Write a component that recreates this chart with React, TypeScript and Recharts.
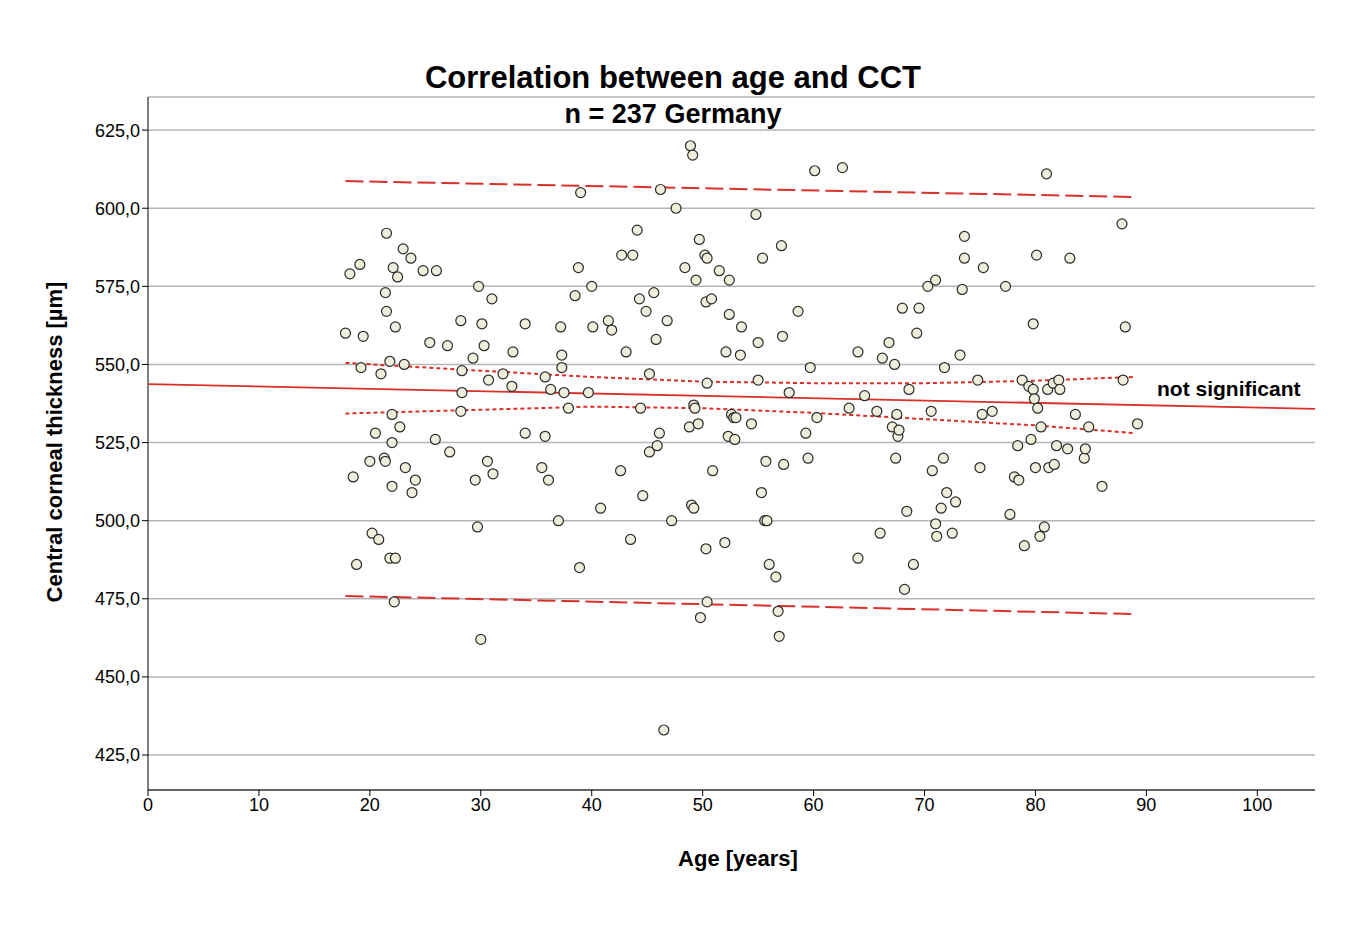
import { ComposedChart, Scatter, XAxis, YAxis, CartesianGrid } from "recharts";

// age [years], central corneal thickness [µm]
const ages = [
  17.8, 18.2, 19.1, 18.5, 18.8, 19.2, 19.4, 20, 20.2, 20.5, 20.8, 21, 21.3, 21.4, 21.5, 21.4, 21.5, 21.8, 21.8, 22, 22, 22, 22.1, 22.3, 22.2, 22.3, 22.5, 22.7, 23, 23.1, 23.2, 23.7, 23.8, 24.1, 24.8, 25.4, 26, 25.9, 27, 27.2,
  28.2, 28.3, 28.3, 28.2, 29.3, 29.5, 29.7, 29.8, 30.1, 30, 30.3, 30.6, 30.7, 31, 31.1, 32, 32.8, 32.9, 34, 34, 35.5, 35.8, 35.8, 36.1, 36.3, 37, 37.2, 37.3, 37.3, 37.5, 37.9, 38.5, 38.8, 38.9, 39, 39.7, 40, 40.1, 40.8, 41.5, 41.8, 42.6, 42.7, 43.1, 43.5, 43.7, 44.1, 44.3, 44.4, 44.6, 44.9, 45.2, 45.2, 45.6, 45.8, 45.9, 46.1, 46.2, 46.5, 46.8, 47.2, 47.6, 48.4,
  48.8, 48.9, 49.1, 49, 49.2, 49.2, 49.3, 49.4, 49.6, 49.7, 49.8, 50.2, 50.3, 50.4, 50.4, 50.3, 50.4, 50.8, 50.9, 51.5, 52, 52.1, 52.3, 52.4, 52.4, 52.6, 52.8, 52.9, 53, 53.4, 53.5, 54.4, 54.8, 55, 55, 55.3, 55.4, 55.6, 55.7, 55.8, 56, 56.6, 56.8, 56.9, 57.1, 57.2, 57.3, 57.8, 58.6, 59.3, 59.5, 59.7, 60.1, 60.3,
  62.6, 63.2, 64, 64, 64.6, 65.7, 66, 66.2, 66.8, 67.1, 67.3, 67.4, 67.5, 67.6, 67.7, 68, 68.2, 68.4, 68.6, 69, 69.3, 69.5, 70.3, 70.6, 70.7, 71, 71.1, 71, 71.5, 71.7, 71.8, 72, 72.5, 72.8, 73.2, 73.4, 73.6, 73.6, 74.8, 75, 75.3, 75.2, 76.1,
  77.3, 77.7, 78.1, 78.4, 78.5, 78.8, 79, 79.4, 79.6, 79.8, 79.8, 79.9, 80, 80.1, 80.2, 80.4, 80.5, 80.8, 81, 81.1, 81.2, 81.6, 81.7, 81.9, 82.1, 82.2, 82.9, 83.1, 83.6, 84.4, 84.5, 84.8, 86, 87.8, 87.9, 88.1, 89.2,
];
const cct = [
  560, 579, 582, 514, 486, 549, 559, 519, 496, 528, 494, 547, 520, 519, 592, 573, 567, 551, 488, 534, 525, 511, 581, 562, 474, 488, 578, 530, 587, 550, 517, 584, 509, 513, 580, 557, 580, 526, 556, 522,
  564, 548, 541, 535, 552, 513, 498, 575, 563, 462, 556, 519, 545, 571, 515, 547, 543, 554, 563, 528, 517, 546, 527, 513, 542, 500, 562, 553, 549, 541, 536, 572, 581, 485, 605, 541, 575, 562, 504, 564, 561, 516, 585, 554, 494, 585, 593, 571, 536, 508, 567, 547, 522, 573, 558, 524, 528, 606, 433, 564, 500, 600, 581,
  530, 620, 617, 505, 504, 537, 536, 577, 531, 590, 469, 585, 570, 584, 544, 491, 474, 571, 516, 580, 493, 554, 527, 577, 566, 534, 533, 526, 533, 553, 562, 531, 598, 557, 545, 509, 584, 500, 519, 500, 486, 482, 471, 463, 588, 559, 518, 541, 567, 528, 520, 549, 612, 533,
  613, 536, 488, 554, 540, 535, 496, 552, 557, 530, 550, 520, 534, 527, 529, 568, 478, 503, 542, 486, 560, 568, 575, 535, 516, 577, 495, 499, 504, 520, 549, 509, 496, 506, 553, 574, 584, 591, 545, 517, 581, 534, 535,
  575, 502, 514, 524, 513, 545, 492, 543, 526, 563, 542, 539, 517, 585, 536, 495, 530, 498, 611, 542, 517, 544, 518, 524, 545, 542, 523, 584, 534, 520, 523, 530, 511, 595, 545, 562, 531,
];

const fitAges = [0, 105.2];
const fitCct = [543.7, 535.8];
const ciAges = [17.8, 30, 40, 50, 60, 70, 80, 89];
const ciUpper = [550.5, 548, 546, 544.5, 544, 544, 544.8, 546];
const ciLower = [534.3, 535.5, 536.5, 536, 534.5, 532.5, 530.5, 528];
const piAges = [17.8, 89];
const piUpper = [608.7, 603.6];
const piLower = [475.9, 470.1];

const xTicks = [0, 10, 20, 30, 40, 50, 60, 70, 80, 90, 100];
const yTicks = [425, 450, 475, 500, 525, 550, 575, 600, 625];

const pts = ages.map((a, i) => ({ age: a, cct: cct[i] }));
const zip = (xs: number[], ys: number[]) => xs.map((x, i) => ({ age: x, cct: ys[i] }));

const RED = "#d9302a";
const FONT = "'Liberation Sans', Arial, sans-serif";

const dot = (p: any) => (
  <circle cx={p.cx} cy={p.cy} r={5} fill="#efeedb" stroke="#2b2b2b" strokeWidth={1.2} />
);
const none = () => null;

export default function App() {
  return (
    <div style={{ position: "relative", width: 1360, height: 930, fontFamily: FONT }}>
      <ComposedChart width={1360} height={930} margin={{ top: 89, right: 53, left: 0, bottom: 108 }}>
        <CartesianGrid vertical={false} stroke="#b5b5b5" strokeWidth={1.5} />
        <XAxis
          dataKey="age"
          type="number"
          domain={[0, 105.2]}
          ticks={xTicks}
          height={40}
          stroke="#000"
          tick={{ fill: "#000", fontSize: 18, fontFamily: FONT }}
          tickSize={6}
          allowDataOverflow
        />
        <YAxis
          dataKey="cct"
          type="number"
          domain={[413.8, 635.6]}
          ticks={yTicks}
          width={140}
          stroke="#000"
          tick={{ fill: "#000", fontSize: 18, fontFamily: FONT }}
          tickFormatter={(v: number) => v.toFixed(1).replace(".", ",")}
          tickSize={6}
          allowDataOverflow
        />
        <Scatter data={zip(piAges, piUpper)} shape={none} line={{ stroke: RED, strokeWidth: 2, strokeDasharray: "18 6" }} isAnimationActive={false} />
        <Scatter data={zip(piAges, piLower)} shape={none} line={{ stroke: RED, strokeWidth: 2, strokeDasharray: "18 6" }} isAnimationActive={false} />
        <Scatter data={zip(ciAges, ciUpper)} shape={none} line={{ stroke: RED, strokeWidth: 2, strokeDasharray: "4 3" }} isAnimationActive={false} />
        <Scatter data={zip(ciAges, ciLower)} shape={none} line={{ stroke: RED, strokeWidth: 2, strokeDasharray: "4 3" }} isAnimationActive={false} />
        <Scatter data={zip(fitAges, fitCct)} shape={none} line={{ stroke: RED, strokeWidth: 1.8 }} isAnimationActive={false} />
        <Scatter data={pts} shape={dot} isAnimationActive={false} />
      </ComposedChart>
      <div style={{ position: "absolute", left: 0, width: 1330, top: 52, textAlign: "center", fontWeight: "bold", fontSize: 31 }}>
        Correlation between age and CCT
      </div>
      <div style={{ position: "absolute", left: 0, width: 1330, top: 91, textAlign: "center", fontWeight: "bold", fontSize: 27 }}>
        n = 237 Germany
      </div>
      <div style={{ position: "absolute", left: 1149, top: 369, fontWeight: "bold", fontSize: 21 }}>not significant</div>
      <div style={{ position: "absolute", left: 0, width: 1460, top: 838, textAlign: "center", fontWeight: "bold", fontSize: 22 }}>
        Age [years]
      </div>
      <div
        style={{
          position: "absolute",
          left: 47,
          top: 434,
          transform: "translate(-50%, -50%) rotate(-90deg)",
          whiteSpace: "nowrap",
          fontWeight: "bold",
          fontSize: 22,
        }}
      >
        Central corneal thickness [µm]
      </div>
    </div>
  );
}
